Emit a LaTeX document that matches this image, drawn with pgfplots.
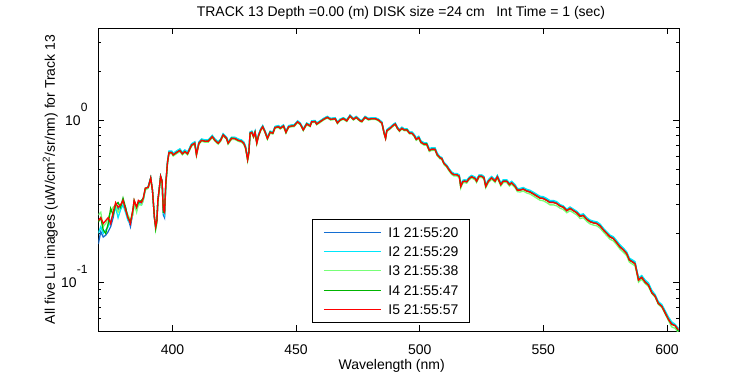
\documentclass[border=0pt]{standalone}
\usepackage{fontspec}
\setmainfont{Liberation Sans}
\usepackage{pgfplots}
\pgfplotsset{compat=1.18}
\usepackage{pgfplotstable}
\definecolor{cIa}{RGB}{20,110,210}
\definecolor{cIb}{RGB}{0,230,250}
\definecolor{cIc}{RGB}{120,255,120}
\definecolor{cId}{RGB}{0,180,0}
\definecolor{cIe}{RGB}{255,0,0}
\pgfplotstableread{
x a b c d e
370.0 0.172 0.200 0.26 0.235 0.24
371.0 0.205 0.22 0.27 0.25 0.25
372.0 0.19 0.20 0.22 0.21 0.23
373.0 0.195 0.21 0.23 0.20 0.24
374.0 0.205 0.22 0.25 0.23 0.25
375.0 0.22 0.24 0.27 0.285 0.23
376.0 0.25 0.26 0.29 0.26 0.27
377.0 0.30 0.29 0.30 0.30 0.31
378.0 0.28 0.25 0.27 0.31 0.29
379.0 0.30 0.28 0.29 0.29 0.30
380.0 0.31 0.30 0.32 0.33 0.32
381.0 0.29 0.27 0.28 0.29 0.28
382.0 0.25 0.24 0.26 0.25 0.25
383.0 0.22 0.23 0.24 0.235 0.23
384.0 0.27 0.27 0.26 0.28 0.28
384.5 0.31 0.30 0.31 0.32 0.32
385.5 0.28 0.28 0.27 0.29 0.29
386.2 0.31 0.31 0.30 0.31 0.32
387.5 0.31 0.30 0.30 0.32 0.31
388.2 0.33 0.32 0.32 0.33 0.33
389.0 0.37 0.375 0.37 0.38 0.38
390.2 0.39 0.39 0.38 0.385 0.385
391.2 0.44 0.44 0.43 0.44 0.44
391.9 0.37 0.37 0.37 0.37 0.37
392.7 0.25 0.25 0.26 0.25 0.25
393.2 0.22 0.22 0.21 0.215 0.22
393.7 0.24 0.24 0.23 0.24 0.24
394.1 0.32 0.32 0.31 0.32 0.32
394.6 0.37 0.37 0.36 0.37 0.37
395.2 0.45 0.45 0.44 0.45 0.45
395.8 0.42 0.42 0.41 0.42 0.42
396.3 0.26 0.27 0.27 0.27 0.28
396.8 0.25 0.26 0.27 0.27 0.27
397.3 0.40 0.40 0.39 0.40 0.41
398.0 0.555 0.56 0.54 0.55 0.55
398.6 0.64 0.645 0.62 0.63 0.63
399.7 0.64 0.645 0.62 0.63 0.63
400.3 0.62 0.625 0.60 0.61 0.61
401.6 0.64 0.645 0.62 0.63 0.63
403.0 0.66 0.665 0.64 0.65 0.65
404.0 0.63 0.635 0.61 0.62 0.62
405.0 0.65 0.655 0.63 0.64 0.64
406.1 0.63 0.635 0.61 0.62 0.62
407.7 0.71 0.715 0.69 0.70 0.70
409.0 0.73 0.735 0.71 0.72 0.72
409.7 0.62 0.625 0.60 0.615 0.61
410.7 0.73 0.735 0.71 0.72 0.72
411.8 0.76 0.765 0.74 0.75 0.75
413.2 0.75 0.755 0.73 0.74 0.74
414.5 0.75 0.755 0.73 0.745 0.74
416.1 0.80 0.805 0.78 0.79 0.79
417.2 0.76 0.765 0.74 0.75 0.75
418.5 0.73 0.735 0.71 0.72 0.72
419.5 0.76 0.765 0.74 0.755 0.75
420.5 0.82 0.825 0.80 0.81 0.81
421.9 0.78 0.785 0.76 0.77 0.77
422.5 0.73 0.735 0.71 0.72 0.72
423.9 0.78 0.785 0.76 0.775 0.77
425.2 0.78 0.785 0.76 0.77 0.77
426.6 0.76 0.765 0.74 0.75 0.75
427.9 0.75 0.755 0.73 0.74 0.74
428.8 0.73 0.735 0.71 0.72 0.72
429.5 0.69 0.695 0.67 0.68 0.68
430.0 0.63 0.635 0.61 0.62 0.62
430.4 0.58 0.585 0.56 0.57 0.57
430.9 0.64 0.645 0.62 0.63 0.63
431.4 0.84 0.845 0.82 0.83 0.83
432.1 0.85 0.855 0.83 0.84 0.84
432.8 0.80 0.805 0.78 0.79 0.79
433.4 0.85 0.855 0.83 0.84 0.84
434.1 0.73 0.735 0.71 0.725 0.72
434.8 0.81 0.815 0.79 0.80 0.80
435.7 0.88 0.885 0.86 0.87 0.87
436.5 0.92 0.925 0.90 0.91 0.91
437.5 0.85 0.855 0.83 0.84 0.84
438.4 0.78 0.785 0.76 0.77 0.77
439.5 0.85 0.855 0.83 0.845 0.84
440.6 0.84 0.845 0.82 0.83 0.83
441.5 0.91 0.915 0.89 0.90 0.90
442.9 0.92 0.925 0.90 0.91 0.91
443.6 0.90 0.905 0.88 0.89 0.89
444.9 0.93 0.935 0.91 0.92 0.92
445.9 0.85 0.855 0.83 0.84 0.84
447.0 0.92 0.925 0.90 0.91 0.91
448.3 0.93 0.935 0.91 0.92 0.92
449.2 0.93 0.935 0.91 0.925 0.92
450.6 0.985 0.99 0.965 0.975 0.976
451.7 0.955 0.96 0.935 0.945 0.945
452.9 0.88 0.885 0.86 0.87 0.87
454.3 0.955 0.96 0.935 0.95 0.945
455.7 0.93 0.935 0.91 0.92 0.92
456.3 0.985 0.99 0.965 0.975 0.976
457.7 0.99 0.995 0.97 0.98 0.98
458.3 0.955 0.96 0.935 0.945 0.945
459.7 0.985 0.99 0.965 0.98 0.976
461.1 1.02 1.025 1.00 1.01 1.01
462.6 1.05 1.055 1.03 1.04 1.04
464.0 1.02 1.025 1.00 1.01 1.01
465.8 1.03 1.035 1.01 1.02 1.02
466.7 0.97 0.975 0.95 0.96 0.96
467.8 1.01 1.015 0.99 1.00 1.00
469.1 1.03 1.035 1.01 1.025 1.02
470.5 1.00 1.005 0.98 0.99 0.99
471.8 1.07 1.075 1.05 1.06 1.06
473.2 1.02 1.025 1.00 1.01 1.01
474.3 1.05 1.055 1.03 1.04 1.04
475.9 1.00 1.005 0.98 0.99 0.99
476.6 0.99 0.995 0.97 0.985 0.98
477.9 1.05 1.055 1.03 1.04 1.04
479.3 1.02 1.025 1.00 1.01 1.01
480.6 1.03 1.035 1.01 1.02 1.02
482.0 1.03 1.035 1.01 1.02 1.02
483.3 1.01 1.015 0.99 1.00 1.00
484.7 0.97 0.975 0.95 0.96 0.96
485.6 0.84 0.845 0.82 0.83 0.83
486.2 0.78 0.785 0.77 0.775 0.77
486.7 0.87 0.875 0.85 0.86 0.86
488.0 0.90 0.905 0.88 0.89 0.89
489.4 0.94 0.945 0.92 0.93 0.93
490.1 0.955 0.96 0.935 0.945 0.945
491.0 0.90 0.905 0.88 0.89 0.89
491.8 0.87 0.875 0.85 0.86 0.86
492.8 0.90 0.905 0.88 0.89 0.89
493.7 0.88 0.885 0.86 0.87 0.87
494.8 0.88 0.885 0.86 0.875 0.87
495.9 0.84 0.845 0.82 0.83 0.83
496.9 0.84 0.845 0.82 0.83 0.83
497.8 0.81 0.815 0.79 0.80 0.80
498.6 0.77 0.775 0.75 0.76 0.76
499.6 0.79 0.795 0.77 0.78 0.78
500.5 0.74 0.745 0.72 0.73 0.73
501.8 0.72 0.725 0.70 0.71 0.71
502.8 0.72 0.725 0.70 0.715 0.71
503.9 0.66 0.665 0.64 0.65 0.65
504.8 0.67 0.675 0.65 0.66 0.66
506.2 0.67 0.675 0.65 0.66 0.66
507.1 0.62 0.625 0.60 0.61 0.61
508.2 0.591 0.594 0.577 0.585 0.585
508.9 0.586 0.589 0.572 0.58 0.58
509.8 0.546 0.549 0.532 0.54 0.54
510.9 0.526 0.529 0.512 0.52 0.52
512.0 0.496 0.499 0.482 0.49 0.49
512.9 0.476 0.479 0.462 0.47 0.47
513.9 0.466 0.469 0.452 0.46 0.46
515.0 0.466 0.469 0.452 0.46 0.46
516.0 0.456 0.459 0.442 0.45 0.45
516.6 0.396 0.399 0.38 0.39 0.39
517.4 0.422 0.425 0.408 0.416 0.416
518.1 0.426 0.429 0.412 0.42 0.42
519.0 0.422 0.425 0.408 0.416 0.416
520.0 0.442 0.445 0.428 0.436 0.436
521.0 0.453 0.456 0.439 0.447 0.447
522.4 0.442 0.445 0.428 0.436 0.436
523.0 0.426 0.429 0.412 0.42 0.42
524.0 0.456 0.459 0.442 0.45 0.45
525.1 0.456 0.459 0.442 0.45 0.45
526.0 0.446 0.449 0.432 0.44 0.44
526.7 0.396 0.399 0.382 0.39 0.39
527.8 0.426 0.429 0.412 0.42 0.42
529.1 0.446 0.449 0.432 0.44 0.44
530.5 0.426 0.429 0.412 0.42 0.42
531.4 0.453 0.456 0.439 0.447 0.447
532.8 0.406 0.409 0.392 0.40 0.40
533.8 0.426 0.429 0.412 0.42 0.42
535.2 0.426 0.429 0.412 0.42 0.42
536.3 0.406 0.409 0.392 0.40 0.40
537.2 0.416 0.419 0.402 0.41 0.41
538.6 0.396 0.399 0.382 0.39 0.39
539.5 0.376 0.379 0.362 0.37 0.37
540.6 0.376 0.379 0.36 0.37 0.37
541.9 0.381 0.384 0.365 0.375 0.375
543.3 0.371 0.374 0.355 0.365 0.365
544.6 0.366 0.369 0.35 0.36 0.36
546.0 0.356 0.359 0.34 0.35 0.35
547.3 0.346 0.349 0.33 0.34 0.34
548.7 0.336 0.339 0.32 0.33 0.33
550.0 0.334 0.337 0.318 0.328 0.328
551.3 0.326 0.329 0.31 0.32 0.32
552.7 0.316 0.319 0.30 0.31 0.31
554.1 0.316 0.319 0.30 0.31 0.31
555.4 0.311 0.314 0.296 0.306 0.306
556.8 0.299 0.301 0.286 0.295 0.295
558.1 0.294 0.296 0.281 0.29 0.29
559.5 0.28 0.282 0.268 0.276 0.276
560.8 0.289 0.291 0.276 0.285 0.285
562.2 0.28 0.282 0.268 0.276 0.276
563.5 0.272 0.274 0.26 0.268 0.268
564.9 0.259 0.261 0.247 0.255 0.255
566.2 0.262 0.264 0.25 0.258 0.258
567.6 0.248 0.25 0.237 0.244 0.244
568.9 0.24 0.242 0.229 0.236 0.236
570.3 0.236 0.238 0.225 0.232 0.232
571.6 0.234 0.236 0.223 0.23 0.23
573.0 0.226 0.228 0.215 0.222 0.222
574.3 0.213 0.215 0.204 0.21 0.21
575.6 0.203 0.205 0.194 0.20 0.20
577.0 0.193 0.195 0.184 0.19 0.19
578.3 0.189 0.191 0.18 0.186 0.186
579.7 0.178 0.18 0.17 0.175 0.175
581.0 0.168 0.17 0.16 0.165 0.165
582.4 0.161 0.162 0.153 0.158 0.158
583.7 0.152 0.154 0.146 0.15 0.15
584.8 0.139 0.141 0.133 0.137 0.137
585.8 0.136 0.138 0.13 0.134 0.134
587.1 0.132 0.134 0.126 0.13 0.13
587.8 0.118 0.119 0.113 0.116 0.116
588.5 0.105 0.106 0.1 0.103 0.103
589.1 0.107 0.108 0.102 0.105 0.105
589.8 0.109 0.11 0.104 0.107 0.107
591.2 0.102 0.103 0.098 0.10 0.10
592.5 0.098 0.099 0.094 0.096 0.096
593.9 0.088 0.089 0.085 0.086 0.086
595.2 0.083 0.084 0.081 0.082 0.082
596.5 0.075 0.076 0.073 0.074 0.074
597.9 0.072 0.073 0.07 0.071 0.071
599.2 0.066 0.067 0.064 0.065 0.065
600.6 0.06 0.061 0.058 0.059 0.059
601.9 0.056 0.057 0.053 0.055 0.055
603.3 0.054 0.055 0.052 0.054 0.054
604.6 0.051 0.052 0.049 0.05 0.051
}\spec
\begin{document}
\fontsize{14bp}{16.8bp}\selectfont
\begin{tikzpicture}
\useasboundingbox (0,0) rectangle (750bp,375bp);
\begin{axis}[
  at={(98.3bp,44bp)}, anchor=south west,
  scale only axis, width=581bp, height=303bp,
  xmin=370, xmax=605, ymode=log, ymin=0.05, ymax=3.7,
  xtick={400,450,500,550,600},
  ytick={0.1,1},
  yticklabels={10\raisebox{13.5bp}{\fontsize{12bp}{12bp}\selectfont -1},10\raisebox{13.5bp}{\fontsize{12bp}{12bp}\selectfont 0}},
  minor ytick={0.05,0.06,0.07,0.08,0.09,0.2,0.3,0.4,0.5,0.6,0.7,0.8,0.9,2,3},
  /pgf/number format/assume math mode=true,
  /pgf/number format/1000 sep={},
  tick pos=both, tick align=inside,
  major tick length=6bp, minor tick length=3bp,
  tick style={black, line width=0.8bp},
  axis line style={line width=0.9bp},
  ticklabel style={font=\fontsize{14bp}{16.8bp}\selectfont},
  xticklabel style={anchor=base, yshift=-23bp},
  yticklabel style={anchor=base east, xshift=-6bp, yshift=-5bp},
  title={TRACK 13 Depth =0.00 (m) DISK size =24 cm \ \ Int Time = 1 (sec)},
  title style={at={(axis description cs:0.521,1)}, anchor=base, yshift=6bp, font=\fontsize{14bp}{16.8bp}\selectfont},
  xlabel={Wavelength (nm)},
  xlabel style={at={(axis description cs:0.505,0)}, anchor=base, yshift=-38bp, font=\fontsize{14bp}{16.8bp}\selectfont},
  ylabel={All five Lu images (uW/cm\textsuperscript{2}/sr/nm) for Track 13},
  ylabel style={at={(axis description cs:-0.0826,0.5)}, anchor=center, font=\fontsize{14bp}{16.8bp}\selectfont},
  legend cell align=left,
  legend image code/.code={\draw[#1, line width=1bp] (0bp,0bp) -- (57bp,0bp);},
  legend style={at={(axis description cs:0.3678,0.3696)}, anchor=north west,
    draw=black, line width=0.8bp, fill=white,
    inner xsep=11bp, inner ysep=7.7bp,
    row sep=9.4bp, column sep=7bp,
    nodes={inner sep=0bp, text height=10bp, text depth=0bp, anchor=west},
    font=\fontsize{14bp}{16.8bp}\selectfont},
  every axis plot/.append style={line width=1.3bp, line join=miter},
]
\addplot[cIa] table[x=x,y=a] {\spec};
\addlegendentry{I1 21:55:20}
\addplot[cIb] table[x=x,y=b] {\spec};
\addlegendentry{I2 21:55:29}
\addplot[cIc] table[x=x,y=c] {\spec};
\addlegendentry{I3 21:55:38}
\addplot[cId] table[x=x,y=d] {\spec};
\addlegendentry{I4 21:55:47}
\addplot[cIe] table[x=x,y=e] {\spec};
\addlegendentry{I5 21:55:57}
\end{axis}
\end{tikzpicture}
\end{document}
